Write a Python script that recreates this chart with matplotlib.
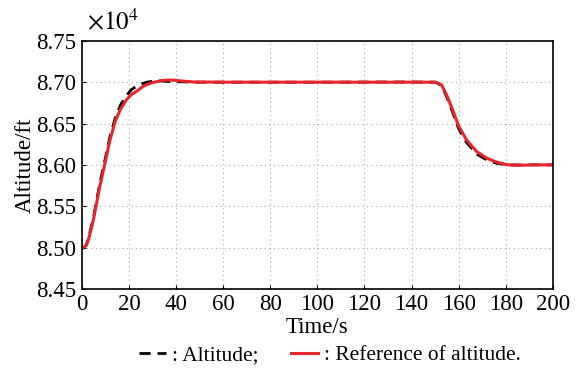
import numpy as np
import matplotlib.pyplot as plt

plt.rcParams['font.family'] = ['Liberation Serif', 'DejaVu Serif']
plt.rcParams['mathtext.fontset'] = 'stix'

# reference of altitude (x1e4 ft)
t_ref = [0, 1, 2, 3, 4.8, 6, 7.6, 9.8, 11.9, 14.3, 16.5, 19, 21, 23.2, 25.5, 27.5, 30, 33, 36, 38.7, 42, 47.3,
         60, 100, 140, 150, 150.6, 152.7, 155, 157.4, 160, 163.4, 167.7, 172, 176, 180, 183, 186, 189, 195, 200]
h_ref = [8.500, 8.5005, 8.503, 8.512, 8.533, 8.550, 8.574, 8.602, 8.630, 8.654, 8.668, 8.679, 8.685, 8.689,
         8.694, 8.697, 8.6995, 8.7015, 8.7025, 8.7025, 8.7015, 8.7003,
         8.700, 8.700, 8.700, 8.700, 8.6995, 8.697, 8.684, 8.667, 8.647, 8.630, 8.616, 8.608, 8.6035, 8.6005,
         8.5995, 8.5995, 8.5998, 8.600, 8.600]

# measured altitude (x1e4 ft)
t_alt = [0, 1, 2, 3, 4.8, 6, 7.6, 9.8, 11.9, 14.3, 16.5, 19, 21, 23.2, 25.5, 27.5, 30, 33, 36, 38.7, 42, 47.3,
         60, 100, 140, 150, 150.6, 152.7, 155, 157.4, 160, 163.4, 167.7, 172, 176, 180, 183, 186, 189, 195, 200]
h_alt = [8.499, 8.500, 8.504, 8.514, 8.535, 8.553, 8.578, 8.606, 8.634, 8.658, 8.673, 8.684, 8.691, 8.695,
         8.698, 8.700, 8.701, 8.7015, 8.701, 8.7005, 8.7005, 8.700,
         8.700, 8.700, 8.7002, 8.700, 8.6995, 8.696, 8.682, 8.664, 8.644, 8.627, 8.613, 8.606, 8.602, 8.6003,
         8.600, 8.5998, 8.600, 8.600, 8.600]

fig = plt.figure(figsize=(5.77, 3.68), dpi=100)
ax = fig.add_axes([0.142, 0.215, 0.816, 0.674])

ax.plot(t_alt, h_alt, color='black', linestyle='--', linewidth=2, dashes=(4, 2.5), label=': Altitude;')
ax.plot(t_ref, h_ref, color='#e8262a', linewidth=2.2, label=': Reference of altitude.')

ax.set_xlim(0, 200)
ax.set_ylim(8.45, 8.75)
ax.set_xticks(np.arange(0, 201, 20))
ax.set_yticks(np.arange(8.45, 8.751, 0.05))
ax.set_yticklabels([f'{v:.2f}' for v in np.arange(8.45, 8.751, 0.05)])
ax.tick_params(direction='in', length=3, labelsize=16.5, width=0.8, pad=4)
ax.grid(True, linestyle=(0, (1, 3)), color='#a8a8a8', linewidth=0.8)
for s in ax.spines.values():
    s.set_linewidth(1.2)

ax.set_xlabel('Time/s', fontsize=16.5, labelpad=1)
ax.set_ylabel('Altitude/ft', fontsize=16.5, labelpad=0)
fig.text(0.15, 0.92, r'$\times10^4$', fontsize=18)

fig.legend(loc='lower center', bbox_to_anchor=(0.572, -0.045), ncol=2, frameon=False, fontsize=15.4,
           handlelength=1.25, columnspacing=1.5, handletextpad=0.3)

fig.savefig('out.png', dpi=100)
